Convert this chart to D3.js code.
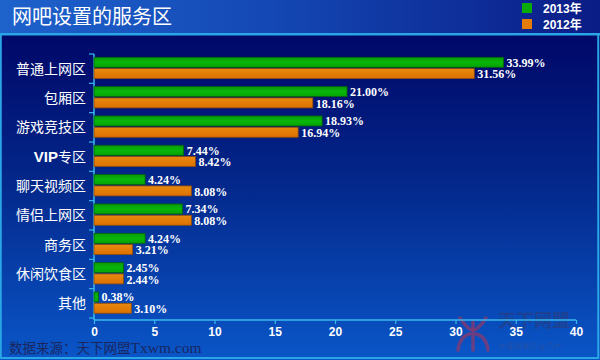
<!DOCTYPE html>
<html>
<head>
<meta charset="utf-8">
<script src="https://cdn.jsdelivr.net/npm/d3@7"></script>
<style>
html,body{margin:0;padding:0;background:#fff;}
svg{display:block;}
</style>
</head>
<body>
<div id="chart"></div>
<script>
const categories = ["普通上网区","包厢区","游戏竞技区","VIP专区","聊天视频区","情侣上网区","商务区","休闲饮食区","其他"];
const values2013 = [33.99,21.00,18.93,7.44,4.24,7.34,4.24,2.45,0.38];
const values2012 = [31.56,18.16,16.94,8.42,8.08,8.08,3.21,2.44,3.10];
const seriesNames = ["2013年","2012年"];
const xTicks = [0,5,10,15,20,25,30,35,40];

const W = 600, H = 360;
const svg = d3.select("#chart").append("svg").attr("width",W).attr("height",H);
const defs = svg.append("defs");

const gTitle = defs.append("linearGradient").attr("id","gTitle").attr("x1","0").attr("x2","1").attr("y1","0").attr("y2","0");
gTitle.append("stop").attr("offset","0").attr("stop-color","#1e62cc");
gTitle.append("stop").attr("offset","0.45").attr("stop-color","#1448b4");
gTitle.append("stop").attr("offset","1").attr("stop-color","#0a1c86");

const gBody = defs.append("linearGradient").attr("id","gBody").attr("x1","0").attr("x2","0").attr("y1","0").attr("y2","1");
gBody.append("stop").attr("offset","0").attr("stop-color","#000868");
gBody.append("stop").attr("offset","0.45").attr("stop-color","#03278a");
gBody.append("stop").attr("offset","1").attr("stop-color","#0a56c8");

const gGreen = defs.append("linearGradient").attr("id","gGreen").attr("x1","0").attr("x2","0").attr("y1","0").attr("y2","1");
gGreen.append("stop").attr("offset","0").attr("stop-color","#0a9a0a");
gGreen.append("stop").attr("offset","0.5").attr("stop-color","#08b608");
gGreen.append("stop").attr("offset","1").attr("stop-color","#06a206");

const gOrange = defs.append("linearGradient").attr("id","gOrange").attr("x1","0").attr("x2","0").attr("y1","0").attr("y2","1");
gOrange.append("stop").attr("offset","0").attr("stop-color","#e88a10");
gOrange.append("stop").attr("offset","1").attr("stop-color","#dc7000");

// backgrounds
svg.append("rect").attr("x",0).attr("y",0).attr("width",W).attr("height",34).attr("fill","url(#gTitle)");
svg.append("rect").attr("x",0).attr("y",35).attr("width",W).attr("height",H-35).attr("fill","url(#gBody)");
svg.append("rect").attr("x",0).attr("y",33).attr("width",W).attr("height",2.5).attr("fill","#2aa6e6");
svg.append("rect").attr("x",0.75).attr("y",34).attr("width",W-2.5).attr("height",H-36).attr("fill","none").attr("stroke","#2aa6e6").attr("stroke-width",2);

// title
svg.append("text").attr("x",12).attr("y",24).text("网吧设置的服务区")
  .attr("fill","#ffffff").attr("font-size",20).attr("font-family","'Noto Sans CJK SC', sans-serif");

// legend
const legColors = ["#0aaa0a","#e47c08"];
seriesNames.forEach((s,i)=>{
  const y0 = 3 + i*16;
  svg.append("rect").attr("x",522).attr("y",y0).attr("width",10).attr("height",10).attr("fill",legColors[i]);
  svg.append("text").attr("x",543).attr("y",y0+9.5).text(s).attr("fill","#fff")
    .attr("font-size",12).attr("font-weight","bold").attr("font-family","'Liberation Sans', 'Noto Sans CJK SC', sans-serif");
});

// watermark
const wm = svg.append("g");
wm.append("text").attr("x",498).attr("y",327).text("天下网盟").attr("fill","#2a3c78").attr("fill-opacity",0.6).attr("font-size",18)
  .attr("font-weight","bold").attr("font-family","'Noto Sans CJK SC', sans-serif");
wm.append("text").attr("x",499).attr("y",349).text("中 国 网 吧 行 业 门 户").attr("fill","#3a5090").attr("fill-opacity",0.7).attr("font-size",6.5)
  .attr("font-family","'Noto Sans CJK SC', sans-serif");
const logo = wm.append("g").attr("fill","none").attr("stroke","#8a3a6e").attr("stroke-opacity",0.75).attr("stroke-width",3.5).attr("stroke-linecap","round");
logo.append("path").attr("d","M460,318 Q468,330 473,330 Q478,330 486,318");
logo.append("path").attr("d","M473,322 V350");
logo.append("path").attr("d","M458,350 Q460,336 470,334");
logo.append("path").attr("d","M488,350 Q486,336 476,334");

// scales
const x = d3.scaleLinear().domain([0,40]).range([94,576]);
const y = d3.scaleBand().domain(categories).range([54,318]).paddingInner(0).paddingOuter(0);
const bw = y.bandwidth();
const barH = 10;
const off1 = 3.3, off2 = 14.6;

// axes
const axisColor = "#38b8ee";
const xAxis = svg.append("g").attr("transform","translate(0,320)")
  .call(d3.axisBottom(x).tickValues(xTicks).tickSize(4).tickPadding(3).tickFormat(d3.format("d")));
xAxis.select(".domain").attr("stroke",axisColor).attr("stroke-width",1.5).attr("d","M94,0H576");
xAxis.selectAll(".tick line").attr("stroke",axisColor).attr("stroke-width",1.2);
xAxis.selectAll(".tick text").attr("fill","#fff").attr("font-size",12).attr("font-weight","bold")
  .attr("font-family","'Liberation Sans', Arial, sans-serif");

const yAxis = svg.append("g").attr("transform","translate(94,0)")
  .call(d3.axisLeft(y).tickSize(0).tickPadding(8));
yAxis.select(".domain").attr("stroke",axisColor).attr("stroke-width",1.5).attr("d","M0,54V320");
yAxis.selectAll(".tick text").remove();
const bounds = categories.map(c=>y(c)).concat([y(categories[categories.length-1])+bw]);
yAxis.selectAll("line.bt").data(bounds).enter().append("line").attr("class","bt")
  .attr("x1",-5).attr("x2",0).attr("y1",d=>d).attr("y2",d=>d).attr("stroke",axisColor).attr("stroke-width",1.2);

// category labels
const labG = svg.append("g");
categories.forEach(c=>{
  const t = labG.append("text").attr("x",86).attr("y",y(c)+bw/2+5).attr("text-anchor","end")
    .attr("fill","#fff").attr("font-size",14).attr("font-family","'Noto Sans CJK SC', sans-serif");
  if (c.startsWith("VIP")) {
    t.append("tspan").text("VIP").attr("font-weight","bold").attr("font-family","'Liberation Sans', Arial, sans-serif").attr("font-size",15);
    t.append("tspan").text(c.slice(3));
  } else t.text(c);
});

// bars
const bars = svg.append("g");
bars.selectAll("rect.b13").data(categories).enter().append("rect").attr("class","b13")
  .attr("x",x(0)).attr("y",(d)=>y(d)+off1).attr("width",(d,i)=>x(values2013[i])-x(0)).attr("height",barH)
  .attr("fill","url(#gGreen)").attr("stroke","#04600a").attr("stroke-width",0.8);
bars.selectAll("rect.b12").data(categories).enter().append("rect").attr("class","b12")
  .attr("x",x(0)).attr("y",(d)=>y(d)+off2).attr("width",(d,i)=>x(values2012[i])-x(0)).attr("height",barH)
  .attr("fill","url(#gOrange)").attr("stroke","#8a4a10").attr("stroke-width",0.8);

// value labels
const fmt = v => v.toFixed(2)+"%";
const lab = svg.append("g").attr("fill","#fff").attr("font-size",12).attr("font-weight","bold")
  .attr("font-family","'Liberation Serif', 'Times New Roman', serif");
categories.forEach((c,i)=>{
  lab.append("text").attr("x",x(values2013[i])+3).attr("y",y(c)+off1+barH-0.8).text(fmt(values2013[i]));
  lab.append("text").attr("x",x(values2012[i])+3).attr("y",y(c)+off2+barH-0.3).text(fmt(values2012[i]));
});

// footer
const ft = svg.append("text").attr("x",9).attr("y",353).attr("fill","#1a2660").attr("font-size",13.5)
  .attr("font-family","'Noto Sans CJK SC', sans-serif");
ft.append("tspan").text("数据来源：天下网盟");
ft.append("tspan").text("Txwm.com").attr("font-family","'Liberation Serif', serif").attr("font-size",15.5);
</script>
</body>
</html>
